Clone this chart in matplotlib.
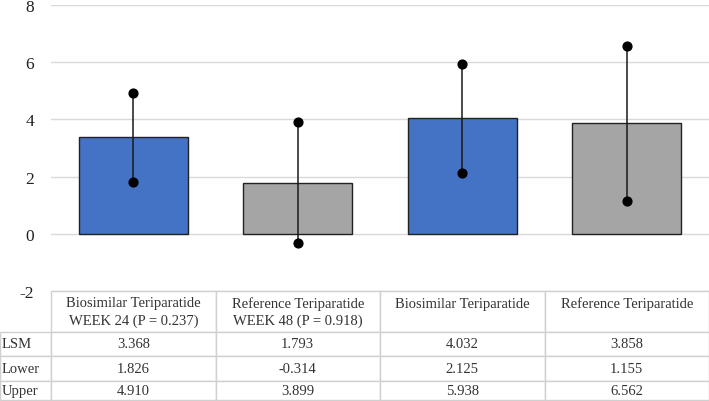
import matplotlib
matplotlib.use("Agg")
import matplotlib.pyplot as plt
import numpy as np

categories = ["Biosimilar Teriparatide\nWEEK 24 (P = 0.237)",
              "Reference Teriparatide\nWEEK 48 (P = 0.918)",
              "Biosimilar Teriparatide\n ",
              "Reference Teriparatide\n "]
lsm = [3.368, 1.793, 4.032, 3.858]
lower = [1.826, -0.314, 2.125, 1.155]
upper = [4.910, 3.899, 5.938, 6.562]
row_labels = ["LSM", "Lower", "Upper"]
yticks = [-2, 0, 2, 4, 6, 8]
bar_colors = ["#4472C4", "#A5A5A5", "#4472C4", "#A5A5A5"]

plt.rcParams['font.family'] = ['Liberation Serif', 'DejaVu Serif']

W, H = 709, 402
fig = plt.figure(figsize=(W / 100, H / 100), dpi=100)
ax_l, ax_r, ax_t, ax_b = 51, 709, 6, 292
ax = fig.add_axes([ax_l / W, 1 - ax_b / H, (ax_r - ax_l) / W, (ax_b - ax_t) / H])

x = np.arange(len(lsm))
ax.bar(x, lsm, width=0.66, color=bar_colors, edgecolor="#222222", linewidth=1.0, zorder=2)
ax.vlines(x, lower, upper, color="#1a1a1a", linewidth=1.1, zorder=3)
ax.scatter(x, lower, s=40, color="black", zorder=4)
ax.scatter(x, upper, s=40, color="black", zorder=4)

ax.set_xlim(-0.5, len(lsm) - 0.5)
ax.set_ylim(-2, 8)
ax.set_yticks(yticks)
ax.set_yticklabels([str(t) for t in yticks], fontsize=12.5, color="#222222")
ax.set_xticks([])
ax.tick_params(axis='y', length=0, pad=12)
ax.grid(axis='y', color="#d9d9d9", linewidth=1.0, zorder=0)
ax.set_axisbelow(True)
for s in ax.spines.values():
    s.set_visible(False)

cell_text = [[f"{v:.3f}" for v in row] for row in [lsm, lower, upper]]
ax_w = ax_r - ax_l
ax_h = ax_b - ax_t
lab_w = 51
heights_px = [41, 24, 25, 19]
tbl_h = sum(heights_px) / ax_h
tbl = ax.table(cellText=cell_text, colLabels=categories,
               cellLoc='center', colLoc='center',
               bbox=[0, -tbl_h, 1, tbl_h])
for i, lab in enumerate(row_labels):
    tbl.add_cell(i + 1, -1, width=lab_w / ax_w, height=heights_px[i + 1] / ax_h,
                 text=lab, loc='left')
tbl.auto_set_font_size(False)
tbl.set_fontsize(10.5)
for (r, c), cell in tbl.get_celld().items():
    cell.set_edgecolor("#d0d0d0")
    cell.set_linewidth(1.0)
    cell.set_height(heights_px[r] / ax_h)
    cell.set_width(lab_w / ax_w if c == -1 else 0.25)
    cell.get_text().set_color("#333333")
    if r == 0:
        cell.get_text().set_linespacing(1.35)
    if c == -1:
        cell.PAD = 0.04

fig.savefig("out.png", dpi=100)
